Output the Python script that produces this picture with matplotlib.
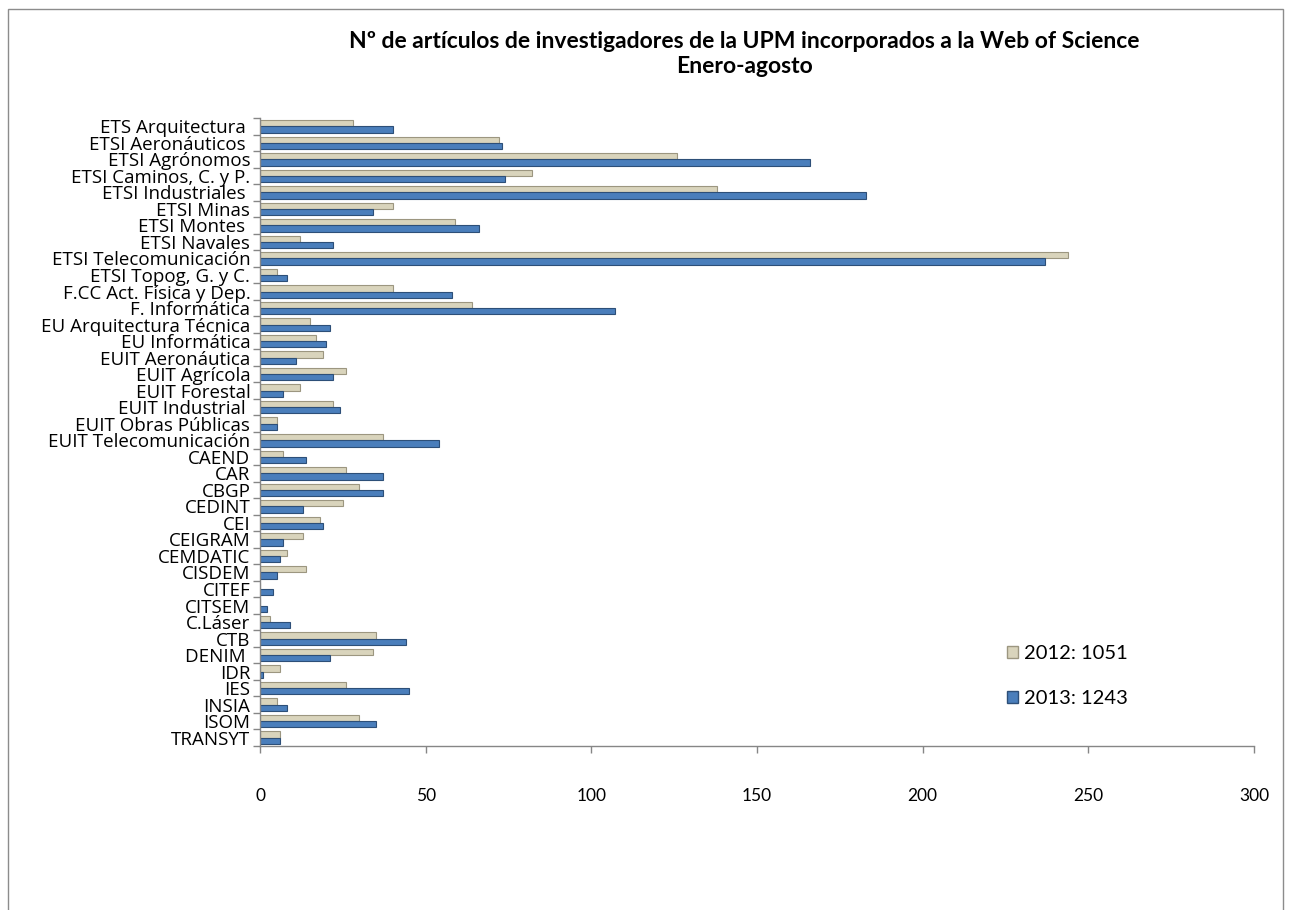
import numpy as np
import matplotlib.pyplot as plt
from matplotlib.patches import Rectangle, Patch

plt.rcParams['font.family'] = ['Lato', 'DejaVu Sans']

# Data
categories = [
    "ETS Arquitectura ", "ETSI Aeronáuticos ", "ETSI Agrónomos",
    "ETSI Caminos, C. y P.", "ETSI Industriales ", "ETSI Minas",
    "ETSI Montes ", "ETSI Navales", "ETSI Telecomunicación",
    "ETSI Topog, G. y C.", "F.CC Act. Física y Dep.", "F. Informática",
    "EU Arquitectura Técnica", "EU Informática", "EUIT Aeronáutica",
    "EUIT Agrícola", "EUIT Forestal", "EUIT Industrial ",
    "EUIT Obras Públicas", "EUIT Telecomunicación", "CAEND", "CAR", "CBGP",
    "CEDINT", "CEI", "CEIGRAM", "CEMDATIC", "CISDEM", "CITEF", "CITSEM",
    "C.Láser", "CTB", "DENIM ", "IDR", "IES", "INSIA", "ISOM", "TRANSYT",
]
values_2012 = [28, 72, 126, 82, 138, 40, 59, 12, 244, 5, 40, 64, 15, 17, 19,
               26, 12, 22, 5, 37, 7, 26, 30, 25, 18, 13, 8, 14, 0, 0,
               3, 35, 34, 6, 26, 5, 30, 6]
values_2013 = [40, 73, 166, 74, 183, 34, 66, 22, 237, 8, 58, 107, 21, 20, 11,
               22, 7, 24, 5, 54, 14, 37, 37, 13, 19, 7, 6, 5, 4, 2,
               9, 44, 21, 1, 45, 8, 35, 6]
legend_labels = ["2012: 1051", "2013: 1243"]
title_text = ("Nº de artículos de investigadores de la UPM incorporados a la Web of Science\n"
              "Enero-agosto")

W, H = 1290, 910
fig = plt.figure(figsize=(W / 100, H / 100), dpi=100)
ax = fig.add_axes([260 / W, 1 - 746 / H, (1254 - 260) / W, (746 - 118) / H])

n = len(categories)
y = np.arange(n)
h = 0.38
c2012 = "#d9d4bc"
c2013 = "#4a7ebb"
ax.barh(y - h / 2, values_2012, height=h, color=c2012,
        edgecolor="#9c9680", linewidth=0.8)
ax.barh(y + h / 2, values_2013, height=h, color=c2013,
        edgecolor="#2d4f78", linewidth=0.8)

ax.set_ylim(n - 0.5, -0.5)
ax.set_xlim(0, 300)
ax.set_xticks(np.arange(0, 301, 50))
ax.set_yticks(np.arange(n + 1) - 0.5)
ax.set_yticklabels([])
ax.set_yticks(y, minor=True)
ax.set_yticklabels(categories, minor=True, fontsize=13.5,
                   family=['Open Sans', 'DejaVu Sans'])
ax.tick_params(axis='y', which='minor', length=0, pad=7)
ax.tick_params(axis='y', which='major', length=5, color="#868686", width=1)
ax.tick_params(axis='x', length=5, color="#868686", width=1, pad=25,
               labelsize=12.5)

for side in ["top", "right"]:
    ax.spines[side].set_visible(False)
for side in ["left", "bottom"]:
    ax.spines[side].set_color("#868686")
    ax.spines[side].set_linewidth(1)

fig.text(744 / W, 1 - 54 / H, title_text, ha='center', va='center',
         fontsize=16.5, fontweight='bold', linespacing=1.25)

handles = [Patch(facecolor=c2012, edgecolor="#9c9680"),
           Patch(facecolor=c2013, edgecolor="#2d4f78")]
fig.legend(handles, legend_labels, loc='center left',
           bbox_to_anchor=(989 / W, 1 - 676 / H), frameon=False,
           fontsize=14.5, handlelength=0.55, handleheight=0.55,
           handletextpad=0.3, labelspacing=1.4)

# outer chart border
fig.patches.append(Rectangle((8 / W, -0.1), (1283 - 8) / W, 1.1 - 9 / H,
                             transform=fig.transFigure, fill=False,
                             edgecolor="#8c8c8c", linewidth=1))

fig.savefig("out.png", dpi=100)
